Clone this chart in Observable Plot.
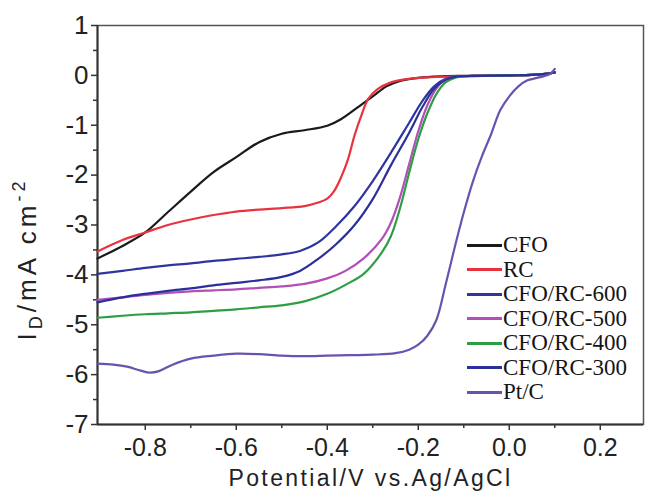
<!DOCTYPE html>
<html><head><meta charset="utf-8">
<script src="https://cdn.jsdelivr.net/npm/d3@7"></script>
<script src="https://cdn.jsdelivr.net/npm/@observablehq/plot@0.6"></script>
<style>
body{margin:0;background:#fff;}
#wrap{position:relative;width:645px;height:492px;}
#legend{position:absolute;left:467px;top:233px;font-family:"Liberation Serif","Times New Roman",serif;font-size:23px;color:#151515;}
.row{display:flex;align-items:center;height:24.5px;white-space:nowrap;}
.sw{width:35px;height:3px;margin-right:1px;}
</style></head><body><div id="wrap"><div id="legend"></div></div>
<script>
// Axis setup
const xDomain = [-0.905, 0.295];
const yDomain = [-7, 1];
const xTicks = [-0.8, -0.6, -0.4, -0.2, 0.0, 0.2];
const xMinor = [-0.7, -0.5, -0.3, -0.1, 0.1];
const yTicks = [1, 0, -1, -2, -3, -4, -5, -6, -7];
const yMinor = [0.5, -0.5, -1.5, -2.5, -3.5, -4.5, -5.5, -6.5];
const xLabel = "Potential/V vs.Ag/AgCl";
const yLabel = "ID/mA cm-2";

// Series names and colours
const names = ["CFO", "RC", "CFO/RC-600", "CFO/RC-500", "CFO/RC-400", "CFO/RC-300", "Pt/C"];
const colors = ["#1a1a1a", "#e8333f", "#2e35a0", "#b24fb8", "#2e9e45", "#2b2f9a", "#6a52b0"];

// [potential V, current mA cm-2]
const cfo = [[-0.905,-3.67],[-0.85,-3.42],[-0.80,-3.15],[-0.75,-2.74],[-0.70,-2.33],[-0.65,-1.94],[-0.60,-1.64],[-0.55,-1.34],[-0.50,-1.17],[-0.45,-1.10],[-0.40,-1.01],[-0.37,-0.88],[-0.33,-0.62],[-0.30,-0.42],[-0.27,-0.22],[-0.24,-0.11],[-0.20,-0.05],[-0.15,-0.02],[-0.10,-0.01],[0.0,0.0],[0.05,0.01],[0.08,0.03],[0.10,0.06]];
const rc = [[-0.905,-3.53],[-0.85,-3.30],[-0.80,-3.15],[-0.75,-3.00],[-0.70,-2.89],[-0.65,-2.80],[-0.60,-2.73],[-0.55,-2.69],[-0.50,-2.66],[-0.45,-2.62],[-0.42,-2.55],[-0.40,-2.47],[-0.385,-2.32],[-0.37,-2.05],[-0.355,-1.70],[-0.34,-1.20],[-0.325,-0.80],[-0.31,-0.47],[-0.29,-0.28],[-0.26,-0.14],[-0.23,-0.08],[-0.18,-0.04],[-0.12,-0.02],[0.0,0.0],[0.05,0.01],[0.08,0.03],[0.10,0.06]];
const cfoRc600 = [[-0.905,-3.98],[-0.85,-3.92],[-0.80,-3.86],[-0.75,-3.81],[-0.70,-3.77],[-0.65,-3.72],[-0.60,-3.68],[-0.55,-3.64],[-0.50,-3.59],[-0.46,-3.52],[-0.42,-3.35],[-0.38,-3.02],[-0.34,-2.62],[-0.30,-2.12],[-0.26,-1.55],[-0.22,-0.95],[-0.19,-0.50],[-0.165,-0.22],[-0.14,-0.07],[-0.12,-0.03],[-0.08,-0.01],[0.0,0.0],[0.05,0.01],[0.08,0.03],[0.10,0.06]];
const cfoRc500 = [[-0.905,-4.50],[-0.85,-4.45],[-0.80,-4.40],[-0.75,-4.36],[-0.70,-4.33],[-0.65,-4.31],[-0.60,-4.29],[-0.55,-4.26],[-0.50,-4.23],[-0.45,-4.18],[-0.40,-4.07],[-0.36,-3.92],[-0.32,-3.67],[-0.28,-3.28],[-0.26,-2.95],[-0.24,-2.44],[-0.22,-1.78],[-0.20,-1.12],[-0.18,-0.60],[-0.16,-0.26],[-0.14,-0.08],[-0.12,-0.03],[-0.08,-0.01],[0.0,0.0],[0.05,0.01],[0.08,0.03],[0.10,0.06]];
const cfoRc400 = [[-0.905,-4.86],[-0.85,-4.82],[-0.80,-4.79],[-0.75,-4.77],[-0.70,-4.75],[-0.65,-4.72],[-0.60,-4.69],[-0.55,-4.65],[-0.50,-4.61],[-0.45,-4.53],[-0.40,-4.38],[-0.36,-4.20],[-0.32,-3.98],[-0.28,-3.55],[-0.26,-3.22],[-0.24,-2.66],[-0.22,-1.95],[-0.20,-1.28],[-0.18,-0.76],[-0.16,-0.37],[-0.14,-0.14],[-0.12,-0.05],[-0.10,-0.02],[0.0,0.0],[0.05,0.01],[0.08,0.03],[0.10,0.06]];
const cfoRc300 = [[-0.905,-4.55],[-0.85,-4.45],[-0.80,-4.38],[-0.75,-4.32],[-0.70,-4.27],[-0.65,-4.21],[-0.60,-4.16],[-0.55,-4.11],[-0.50,-4.04],[-0.46,-3.92],[-0.42,-3.68],[-0.38,-3.38],[-0.34,-3.00],[-0.30,-2.48],[-0.26,-1.80],[-0.22,-1.15],[-0.19,-0.62],[-0.165,-0.27],[-0.14,-0.09],[-0.12,-0.03],[-0.08,-0.01],[0.0,0.0],[0.05,0.01],[0.08,0.03],[0.10,0.06]];
const ptC = [[-0.905,-5.78],[-0.87,-5.80],[-0.84,-5.84],[-0.81,-5.92],[-0.79,-5.96],[-0.77,-5.93],[-0.74,-5.80],[-0.70,-5.68],[-0.65,-5.62],[-0.60,-5.58],[-0.55,-5.59],[-0.50,-5.62],[-0.45,-5.63],[-0.40,-5.62],[-0.35,-5.61],[-0.30,-5.60],[-0.25,-5.57],[-0.22,-5.50],[-0.20,-5.40],[-0.18,-5.22],[-0.16,-4.90],[-0.14,-4.20],[-0.12,-3.45],[-0.10,-2.75],[-0.08,-2.13],[-0.06,-1.62],[-0.04,-1.18],[-0.02,-0.70],[0.0,-0.42],[0.02,-0.22],[0.04,-0.10],[0.07,-0.03],[0.09,0.03],[0.10,0.13]];

const seriesData = [cfo, rc, cfoRc600, cfoRc500, cfoRc400, cfoRc300, ptC];
const rows = seriesData.flatMap((pts, k) => pts.map(([v, i]) => ({name: names[k], v, i})));

const chart = Plot.plot({
  width: 645, height: 492,
  marginLeft: 97, marginRight: 2, marginTop: 25, marginBottom: 68,
  style: {fontFamily: "'Liberation Sans', Arial, sans-serif", background: "#fff", color: "#222"},
  x: {domain: xDomain},
  y: {domain: yDomain},
  color: {domain: names, range: colors},
  marks: [
    Plot.axisX({ticks: xTicks, tickSize: 6, tickPadding: 8, tickFormat: d => d.toFixed(1), fontSize: 25, label: null, stroke: "#333", strokeWidth: 1.5}),
    Plot.axisX({ticks: xMinor, tickSize: 4, text: null, label: null, stroke: "#333", strokeWidth: 1.5}),
    Plot.axisY({ticks: yTicks, tickSize: 6, tickPadding: 3, tickFormat: d => String(d), fontSize: 26, label: null, stroke: "#333", strokeWidth: 1.5}),
    Plot.axisY({ticks: yMinor, tickSize: 4, text: null, label: null, stroke: "#333", strokeWidth: 1.5}),
    Plot.frame({stroke: "#555", strokeWidth: 1.5}),
    Plot.ruleY([yDomain[0]], {stroke: "#333", strokeWidth: 2}),
    Plot.ruleX([xDomain[0]], {stroke: "#333", strokeWidth: 2}),
    Plot.line(rows, {x: "v", y: "i", z: "name", stroke: "name", strokeWidth: 2.2, curve: "catmull-rom"}),
    Plot.text([xLabel], {text: d => d, frameAnchor: "bottom", textAnchor: "middle", dy: 54, lineAnchor: "middle", fontSize: 23, fill: "#222"}),
    Plot.text([yLabel], {text: d => d, frameAnchor: "left", textAnchor: "middle", dx: -70, dy: 34, rotate: -90, lineAnchor: "middle", fontSize: 26, fill: "#222"})
  ]
});

const svg = d3.select(chart);
svg.selectAll("text").filter(function() { return this.textContent === xLabel; })
  .style("letter-spacing", "2.4px");
const yt = svg.selectAll("text").filter(function() { return this.textContent === yLabel; });
yt.text(null).style("letter-spacing", "4px");
yt.append("tspan").text("I");
yt.append("tspan").attr("font-size", 18).attr("dy", 6).text("D");
yt.append("tspan").attr("dy", -6).text("/mA cm");
yt.append("tspan").attr("font-size", 18).attr("dy", -11).text("-2");

document.getElementById("wrap").prepend(chart);

const legend = document.getElementById("legend");
names.forEach((n, k) => {
  const row = document.createElement("div");
  row.className = "row";
  const sw = document.createElement("span");
  sw.className = "sw";
  sw.style.background = colors[k];
  const t = document.createElement("span");
  t.textContent = n;
  row.append(sw, t);
  legend.append(row);
});
</script></body></html>
